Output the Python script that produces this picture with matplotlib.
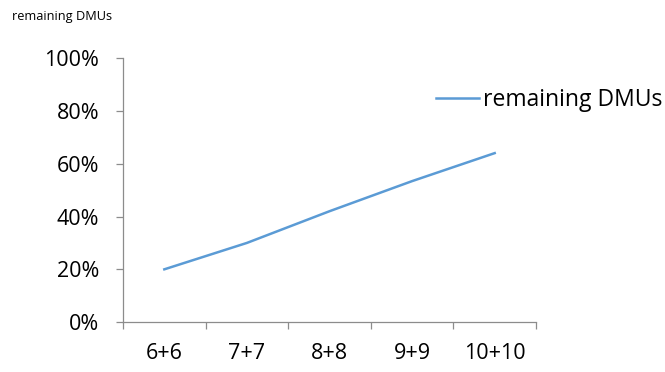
import numpy as np
import matplotlib.pyplot as plt
from matplotlib.ticker import FixedLocator, PercentFormatter

plt.rcParams['font.family'] = ['Open Sans', 'DejaVu Sans']

categories = ['6+6', '7+7', '8+8', '9+9', '10+10']
remaining = [0.20, 0.30, 0.42, 0.534, 0.64]

axis_gray = '#8c8c8c'
line_blue = '#5b9bd5'

fig = plt.figure(figsize=(6.65, 3.72), dpi=100)
ax = fig.add_axes([0.185, 0.134, 0.621, 0.710])

x = np.arange(len(categories))
ax.plot(x, remaining, color=line_blue, linewidth=1.8, label='remaining DMUs')

ax.set_xlim(-0.5, len(categories) - 0.5)
ax.set_ylim(0, 1)
ax.set_yticks(np.arange(0, 1.01, 0.2))
ax.yaxis.set_major_formatter(PercentFormatter(1.0, decimals=0))

# labels sit at category centres, tick marks at the boundaries
ax.set_xticks(x)
ax.set_xticklabels(categories)
ax.xaxis.set_minor_locator(FixedLocator(np.arange(-0.5, len(categories), 1.0)))
ax.tick_params(axis='x', which='major', length=0, pad=15, labelsize=15.5)
ax.tick_params(axis='x', which='minor', length=5, color=axis_gray, width=0.9)
ax.tick_params(axis='y', length=5, color=axis_gray, width=0.9, pad=12, labelsize=15.5)

for side in ('top', 'right'):
    ax.spines[side].set_visible(False)
for side in ('left', 'bottom'):
    ax.spines[side].set_color(axis_gray)
    ax.spines[side].set_linewidth(0.9)

ax.legend(loc='center left', bbox_to_anchor=(0.735, 0.84), frameon=False,
          fontsize=16.5, handlelength=1.9, handletextpad=0.15, borderaxespad=0)

fig.text(0.018, 0.955, 'remaining DMUs', fontsize=9.2, va='center', ha='left')

fig.savefig('out.png', dpi=100)
